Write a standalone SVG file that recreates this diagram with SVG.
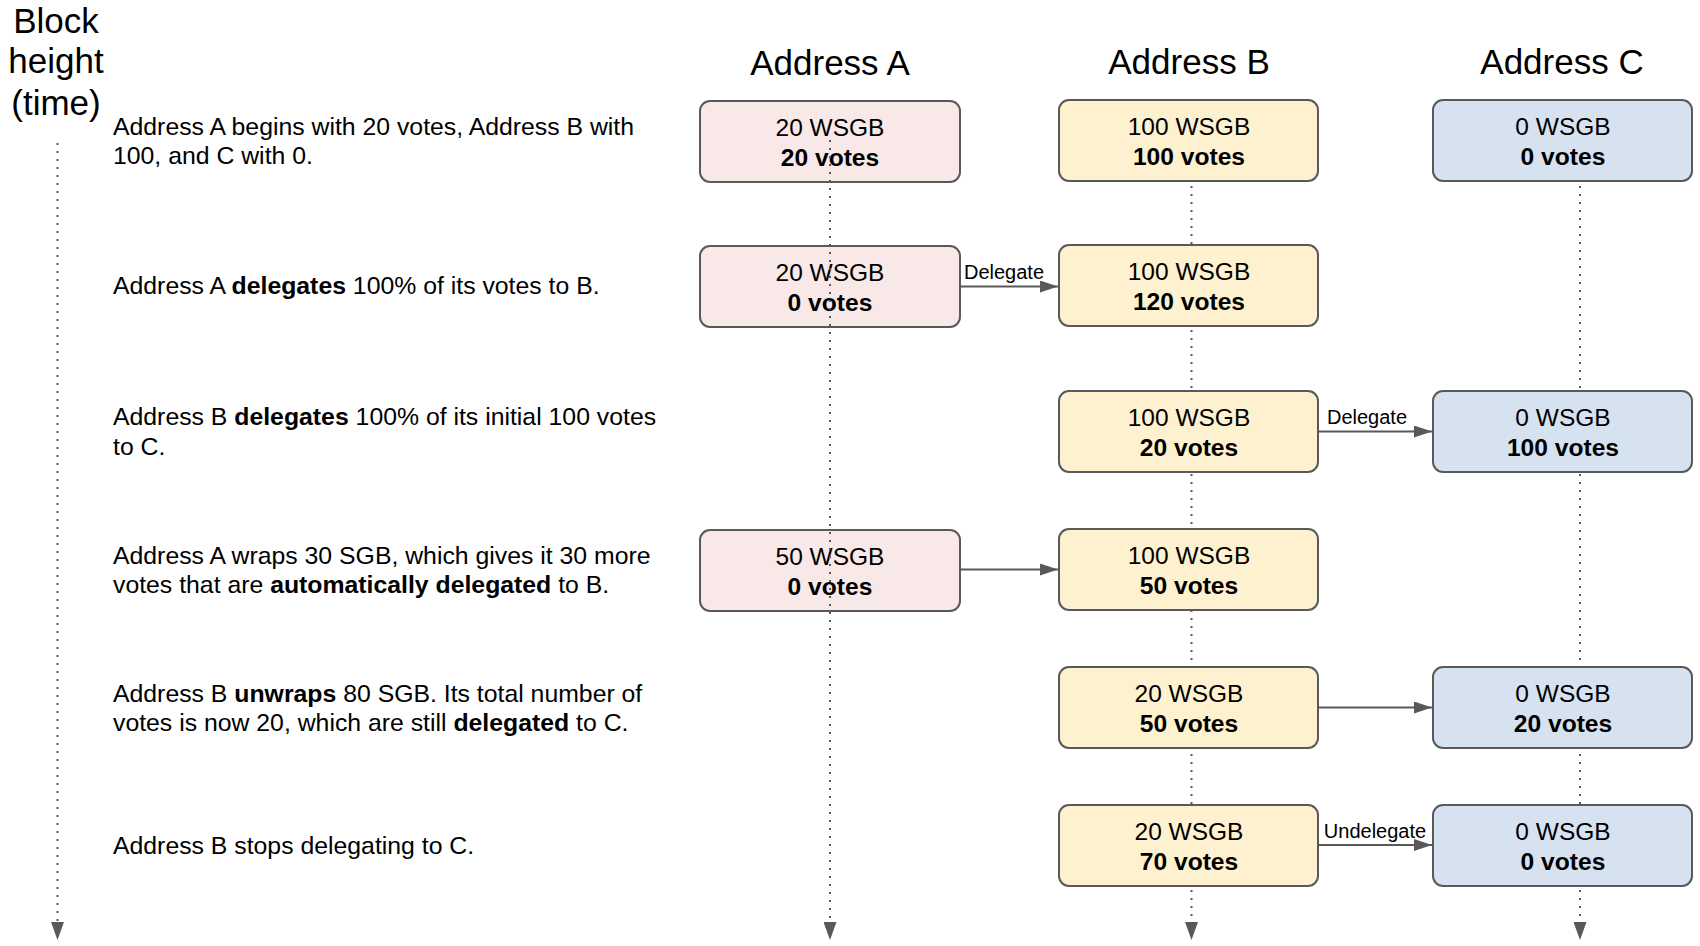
<svg xmlns="http://www.w3.org/2000/svg" width="1700" height="946" viewBox="0 0 1700 946">
<style>
text{font-family:"Liberation Sans",Arial,sans-serif;fill:#000}
.hd{font-size:35px;text-anchor:middle}
.ds{font-size:24.8px}
.bx{stroke:#595959;stroke-width:2}
.a{fill:#f8e8e8}.b{fill:#fdf1cf}.c{fill:#d7e2f0}
.t1{font-size:24.5px;text-anchor:middle}
.t2{font-size:24.6px;text-anchor:middle;font-weight:bold}
.dot{stroke:#595959;stroke-width:2;stroke-dasharray:2 6;fill:none}
.con{stroke:#595959;stroke-width:2;fill:none}
.lb{font-size:20px;text-anchor:middle}
</style>
<defs>
<marker id="ah" markerWidth="18" markerHeight="12" refX="18" refY="6" orient="auto" markerUnits="userSpaceOnUse"><path d="M0,0L18,6L0,12z" fill="#595959"/></marker>
<marker id="dh" markerWidth="13" markerHeight="18" refX="6.5" refY="0" orient="0" markerUnits="userSpaceOnUse"><path d="M0,0L13,0L6.5,18z" fill="#595959"/></marker>
</defs>
<rect width="1700" height="946" fill="#fff"/>
<g id="header">
<text class="hd" x="56" y="33">Block</text>
<text class="hd" x="56" y="73">height</text>
<text class="hd" x="56" y="115">(time)</text>
<text class="hd" x="830" y="75">Address A</text>
<text class="hd" x="1189" y="74">Address B</text>
<text class="hd" x="1562" y="74">Address C</text>
</g>
<g id="descriptions">
<text class="ds" x="113" y="135">Address A begins with 20 votes, Address B with</text>
<text class="ds" x="113" y="164">100, and C with 0.</text>
<text class="ds" x="113" y="294">Address A <tspan font-weight="bold">delegates</tspan> 100% of its votes to B.</text>
<text class="ds" x="113" y="425">Address B <tspan font-weight="bold">delegates</tspan> 100% of its initial 100 votes</text>
<text class="ds" x="113" y="455">to C.</text>
<text class="ds" x="113" y="564">Address A wraps 30 SGB, which gives it 30 more</text>
<text class="ds" x="113" y="593">votes that are <tspan font-weight="bold">automatically delegated</tspan> to B.</text>
<text class="ds" x="113" y="702">Address B <tspan font-weight="bold">unwraps</tspan> 80 SGB. Its total number of</text>
<text class="ds" x="113" y="731">votes is now 20, which are still <tspan font-weight="bold">delegated</tspan> to C.</text>
<text class="ds" x="113" y="854">Address B stops delegating to C.</text>
</g>
<g id="lifelines-under">
<line class="dot" x1="57.5" y1="143" x2="57.5" y2="922" marker-end="url(#dh)"/>
<line class="dot" x1="1191.5" y1="186" x2="1191.5" y2="922" marker-end="url(#dh)"/>
<line class="dot" x1="1580" y1="186" x2="1580" y2="922" marker-end="url(#dh)"/>
</g>
<g id="A1"><rect class="bx a" x="700" y="101" width="260" height="81" rx="10"/><text class="t1" x="830" y="136">20 WSGB</text><text class="t2" x="830" y="166">20 votes</text></g>
<g id="B1"><rect class="bx b" x="1059" y="100" width="259" height="81" rx="10"/><text class="t1" x="1189" y="135">100 WSGB</text><text class="t2" x="1189" y="165">100 votes</text></g>
<g id="C1"><rect class="bx c" x="1433" y="100" width="259" height="81" rx="10"/><text class="t1" x="1563" y="135">0 WSGB</text><text class="t2" x="1563" y="165">0 votes</text></g>
<g id="A2"><rect class="bx a" x="700" y="246" width="260" height="81" rx="10"/><text class="t1" x="830" y="281">20 WSGB</text><text class="t2" x="830" y="311">0 votes</text></g>
<g id="B2"><rect class="bx b" x="1059" y="245" width="259" height="81" rx="10"/><text class="t1" x="1189" y="280">100 WSGB</text><text class="t2" x="1189" y="310">120 votes</text></g>
<g id="B3"><rect class="bx b" x="1059" y="391" width="259" height="81" rx="10"/><text class="t1" x="1189" y="426">100 WSGB</text><text class="t2" x="1189" y="456">20 votes</text></g>
<g id="C3"><rect class="bx c" x="1433" y="391" width="259" height="81" rx="10"/><text class="t1" x="1563" y="426">0 WSGB</text><text class="t2" x="1563" y="456">100 votes</text></g>
<g id="A4"><rect class="bx a" x="700" y="530" width="260" height="81" rx="10"/><text class="t1" x="830" y="565">50 WSGB</text><text class="t2" x="830" y="595">0 votes</text></g>
<g id="B4"><rect class="bx b" x="1059" y="529" width="259" height="81" rx="10"/><text class="t1" x="1189" y="564">100 WSGB</text><text class="t2" x="1189" y="594">50 votes</text></g>
<g id="B5"><rect class="bx b" x="1059" y="667" width="259" height="81" rx="10"/><text class="t1" x="1189" y="702">20 WSGB</text><text class="t2" x="1189" y="732">50 votes</text></g>
<g id="C5"><rect class="bx c" x="1433" y="667" width="259" height="81" rx="10"/><text class="t1" x="1563" y="702">0 WSGB</text><text class="t2" x="1563" y="732">20 votes</text></g>
<g id="B6"><rect class="bx b" x="1059" y="805" width="259" height="81" rx="10"/><text class="t1" x="1189" y="840">20 WSGB</text><text class="t2" x="1189" y="870">70 votes</text></g>
<g id="C6"><rect class="bx c" x="1433" y="805" width="259" height="81" rx="10"/><text class="t1" x="1563" y="840">0 WSGB</text><text class="t2" x="1563" y="870">0 votes</text></g>
<g id="connectors">
<line class="dot" x1="830" y1="140" x2="830" y2="922" marker-end="url(#dh)"/>
<line class="con" x1="960" y1="286.5" x2="1058" y2="286.5" marker-end="url(#ah)"/>
<text class="lb" x="1004" y="279">Delegate</text>
<line class="con" x1="1318" y1="431.5" x2="1432" y2="431.5" marker-end="url(#ah)"/>
<text class="lb" x="1367" y="424">Delegate</text>
<line class="con" x1="960" y1="569.5" x2="1058" y2="569.5" marker-end="url(#ah)"/>
<line class="con" x1="1318" y1="707.5" x2="1432" y2="707.5" marker-end="url(#ah)"/>
<line class="con" x1="1318" y1="845" x2="1432" y2="845" marker-end="url(#ah)"/>
<text class="lb" x="1375" y="838">Undelegate</text>
</g>
</svg>
